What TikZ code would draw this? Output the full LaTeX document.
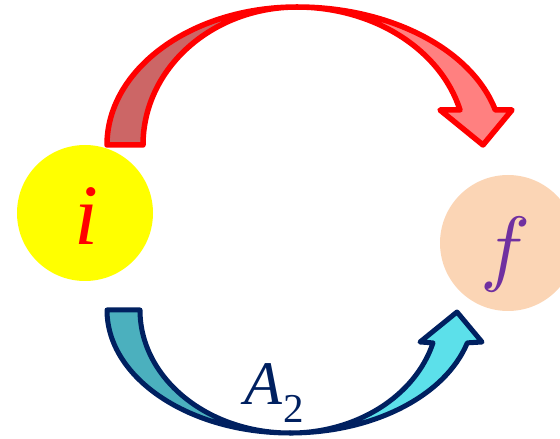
\documentclass[tikz,border=0pt]{standalone}
\usepackage{fontspec}
\newfontfamily\timesfont{Liberation Serif}
\definecolor{redback}{RGB}{204,102,102}
\definecolor{redfront}{RGB}{255,128,128}
\definecolor{navy}{RGB}{0,32,96}
\definecolor{tealback}{RGB}{75,176,190}
\definecolor{tealfront}{RGB}{92,224,234}
\definecolor{peach}{RGB}{251,213,181}
\definecolor{purp}{RGB}{112,48,160}
\definecolor{sunny}{RGB}{255,255,0}

\begin{document}
\begin{tikzpicture}[x=1pt, y=1pt]
        \tikzstyle{state}=[circle, minimum size=136pt, inner sep=0pt];
        \tikzstyle{redarrow}=[draw=red, line width=5.5pt, line join=round];
        \tikzstyle{bluearrow}=[draw=navy, line width=5pt, line join=round];
        \useasboundingbox (0,0) rectangle (560,439);

        % states
        \node[state, fill=sunny] (i) at (85,226) {};
        \node[state, fill=peach] (f) at (508,196) {};
        \node[inner sep=0pt, text=red, font=\timesfont\itshape\fontsize{86}{86}\selectfont] (ilabel) at (86,222.5) {i};
        \node[inner sep=0pt, text=purp, scale=8.4] (flabel) at (506,184.5) {$f$};

        % upper arrow, i to f
        \coordinate (redc) at (297,294);
        \path[redarrow, fill=redback] (107,294) arc[start angle=180, end angle=90, x radius=190, y radius=138]
            arc[start angle=90, end angle=180, x radius=154, y radius=138] -- cycle;
        \path[redarrow, fill=redfront] (297,432) arc[start angle=90, end angle=14.7, x radius=205, y radius=138]
            -- (512,329) -- (483,294) -- (440,329) -- (460,329)
            arc[start angle=14.7, end angle=90, x radius=168.6, y radius=138] -- cycle;

        % lower arrow, i to f
        \coordinate (bluec) at (290,129);
        \path[bluearrow, fill=tealback] (107,129) arc[start angle=180, end angle=270, x radius=183, y radius=123]
            arc[start angle=270, end angle=180, x radius=150, y radius=123] -- cycle;
        \path[bluearrow, fill=tealfront] (290,6) arc[start angle=270, end angle=344.5, x radius=184, y radius=123]
            -- (482,97) -- (457,127) -- (420,97) -- (433,96.1)
            arc[start angle=344.5, end angle=270, x radius=148.4, y radius=123] -- cycle;

        \node[inner sep=0pt, anchor=base west, text=navy, font=\timesfont] (alabel) at (244,34)
            {{\fontsize{62}{62}\selectfont\itshape A}\hspace{1pt}\raisebox{-18pt}{\fontsize{41}{41}\selectfont 2}};
    \end{tikzpicture}
\end{document}
